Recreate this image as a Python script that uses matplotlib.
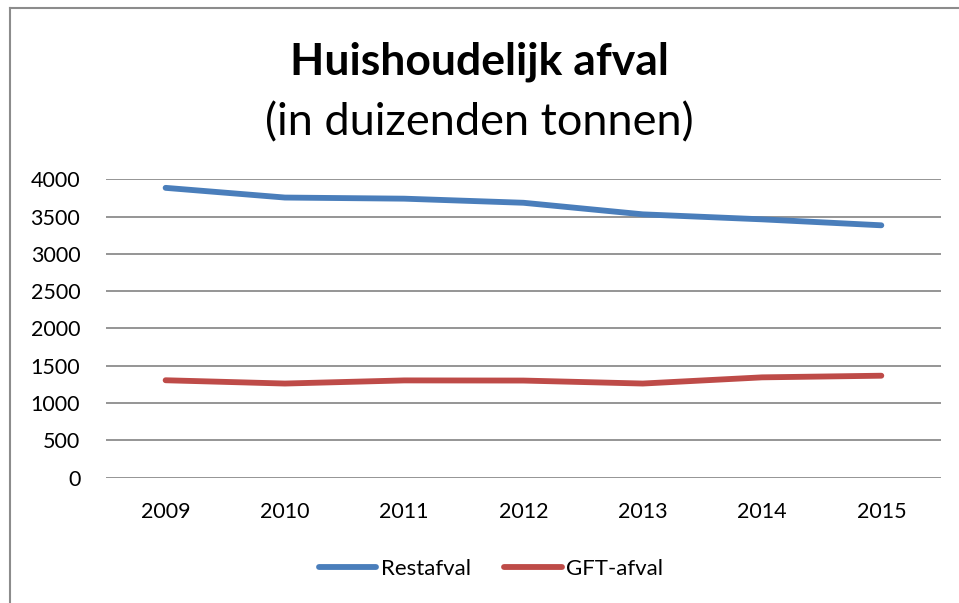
import matplotlib.pyplot as plt
from matplotlib.lines import Line2D

YEARS = ["2009", "2010", "2011", "2012", "2013", "2014", "2015"]
RESTAFVAL = [3885, 3755, 3740, 3685, 3530, 3463, 3383]
GFT_AFVAL = [1306, 1262, 1304, 1302, 1262, 1345, 1367]
Y_TICKS = [0, 500, 1000, 1500, 2000, 2500, 3000, 3500, 4000]

BLUE = "#4a7ebb"
RED = "#be4b48"
FONT = ["Lato", "DejaVu Sans"]

plt.rcParams["font.family"] = FONT


def main():
    fig = plt.figure(figsize=(9.59, 6.03), dpi=100)
    ax = fig.add_axes([0.1105, 0.2078, 0.8707, 0.4949])

    x = list(range(len(YEARS)))
    ax.plot(x, RESTAFVAL, color=BLUE, lw=4.2, solid_capstyle="round",
            solid_joinstyle="round", label="Restafval", zorder=3)
    ax.plot(x, GFT_AFVAL, color=RED, lw=4.2, solid_capstyle="round",
            solid_joinstyle="round", label="GFT-afval", zorder=3)

    ax.set_xlim(-0.5, len(YEARS) - 0.5)
    ax.set_ylim(0, 4000)
    ax.set_yticks(Y_TICKS)
    ax.set_yticklabels([str(v) for v in Y_TICKS])
    ax.set_xticks(x)
    ax.set_xticklabels(YEARS)
    ax.tick_params(axis="both", length=0, labelsize=15.5, colors="#000000")
    ax.tick_params(axis="y", pad=18.5)
    ax.tick_params(axis="x", pad=17.5)

    ax.grid(axis="y", color="#8c8c8c", lw=1.3)
    ax.set_axisbelow(True)
    for s in ["left", "right", "top", "bottom"]:
        ax.spines[s].set_visible(False)

    # title
    fig.text(0.5, 0.897, "Huishoudelijk afval", ha="center", va="center",
             fontsize=32, fontweight="bold")
    fig.text(0.5, 0.797, "(in duizenden tonnen)", ha="center", va="center",
             fontsize=32.5)

    # legend
    handles = [Line2D([], [], color=BLUE, lw=4.2, solid_capstyle="round"),
               Line2D([], [], color=RED, lw=4.2, solid_capstyle="round")]
    fig.legend(handles, ["Restafval", "GFT-afval"], loc="center",
               bbox_to_anchor=(0.512, 0.057), ncol=2, frameon=False,
               fontsize=16, handlelength=2.6, handletextpad=0.2,
               columnspacing=1.5)

    # chart border (left and top visible)
    fig.add_artist(Line2D([0.0105, 0.0105], [0, 0.987], color="#8c8c8c",
                          lw=1.5, transform=fig.transFigure))
    fig.add_artist(Line2D([0.0105, 1.0], [0.987, 0.987], color="#8c8c8c",
                          lw=1.5, transform=fig.transFigure))

    fig.savefig("out.png", dpi=100)


if __name__ == "__main__":
    main()
